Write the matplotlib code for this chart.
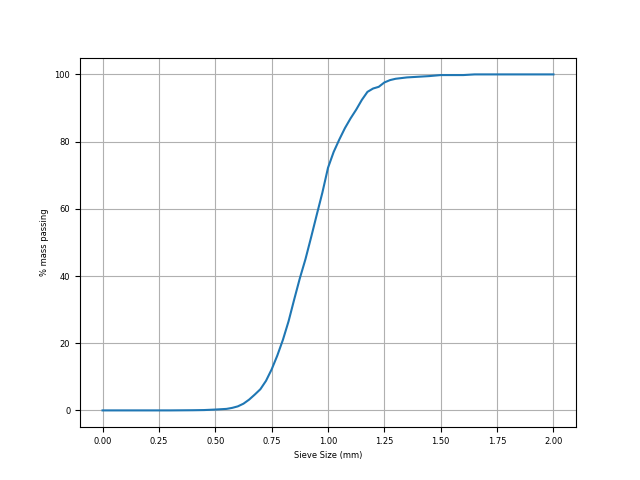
import matplotlib
matplotlib.use("Agg")
import matplotlib.pyplot as plt

sieve_size = [0.0, 0.1, 0.2, 0.3, 0.4, 0.45, 0.5, 0.55, 0.575, 0.6, 0.625, 0.65, 0.675,
              0.7, 0.725, 0.75, 0.775, 0.8, 0.825, 0.85, 0.875, 0.9, 0.925, 0.95,
              0.975, 1.0, 1.025, 1.05, 1.075, 1.1, 1.125, 1.15, 1.175, 1.2, 1.225,
              1.25, 1.275, 1.3, 1.35, 1.4, 1.45, 1.5, 1.6, 1.65, 1.7, 1.8, 1.9, 2.0]
mass_passing = [0.0, 0.0, 0.0, 0.0, 0.05, 0.1, 0.25, 0.45, 0.75, 1.2, 2.0, 3.2, 4.7,
                6.3, 8.8, 12.2, 16.3, 21.0, 26.5, 33.0, 39.3, 45.0, 51.5, 58.2,
                64.8, 72.2, 76.9, 80.6, 84.0, 86.9, 89.5, 92.4, 94.8, 95.8, 96.3,
                97.6, 98.3, 98.7, 99.1, 99.3, 99.5, 99.8, 99.8, 100.0, 100.0, 100.0, 100.0, 100.0]

fig, ax = plt.subplots(figsize=(6.4, 4.8), dpi=100)
ax.plot(sieve_size, mass_passing, color="#1f77b4", linewidth=1.5)
ax.set_xlabel("Sieve Size (mm)", fontsize=6)
ax.set_ylabel("% mass passing", fontsize=6)
ax.tick_params(labelsize=6)
ax.grid(True)
fig.savefig("out.png", dpi=100)
